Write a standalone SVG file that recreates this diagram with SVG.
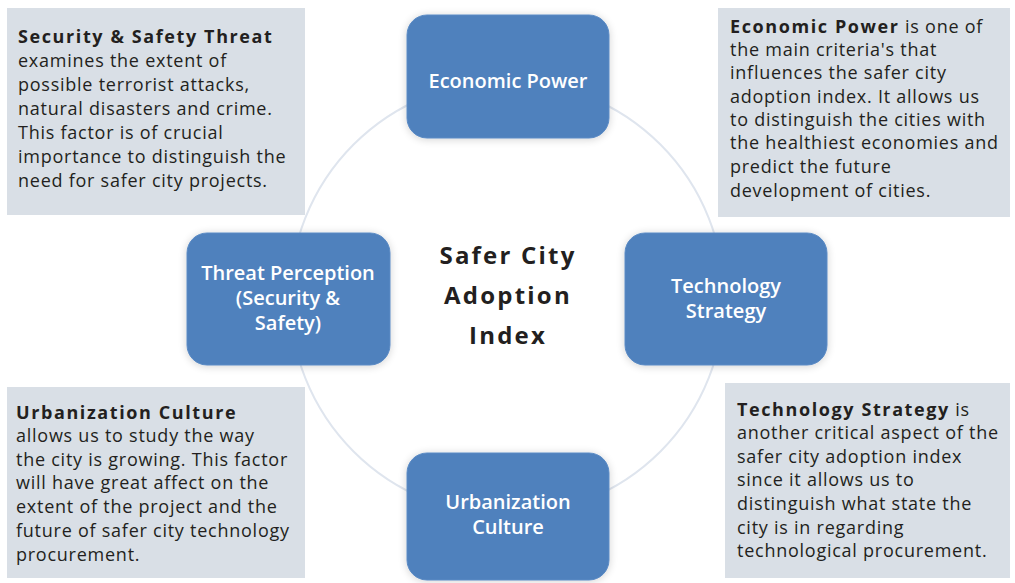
<svg xmlns="http://www.w3.org/2000/svg" width="1015" height="583" viewBox="0 0 1015 583">
<defs>
<filter id="sh" x="-20%" y="-20%" width="140%" height="140%">
<feGaussianBlur in="SourceAlpha" stdDeviation="4"/>
<feOffset dx="0" dy="1" result="b"/>
<feComponentTransfer><feFuncA type="linear" slope="0.18"/></feComponentTransfer>
<feMerge><feMergeNode/><feMergeNode in="SourceGraphic"/></feMerge>
</filter>
<style>
.panel{fill:#d9dfe6}
.node{fill:#4f81bd;stroke:#5a8ac4;stroke-width:1;filter:url(#sh)}
.nl{font-family:"Open Sans",sans-serif;font-weight:600;font-size:20px;fill:#ffffff;text-anchor:middle}
.pt{font-family:"Open Sans",sans-serif;font-size:18px;fill:#231f20;letter-spacing:0.75px}
.b{font-weight:700;letter-spacing:1.6px}
.ct{font-family:"Open Sans",sans-serif;font-weight:700;font-size:24px;fill:#231f20;text-anchor:middle;letter-spacing:2.2px}
.ring{fill:none;stroke:#dfe5ee;stroke-width:2}
</style>
</defs>
<rect width="1015" height="583" fill="#ffffff"/>
<g id="connectors">
<circle class="ring" cx="507" cy="298" r="217"/>
</g>
<g id="panel-security">
<rect class="panel" x="7" y="8" width="298" height="207"/>
<text class="pt" x="18" y="43"><tspan class="b">Security &amp; Safety Threat</tspan><tspan x="18" y="67">examines the extent of</tspan><tspan x="18" y="91">possible terrorist attacks,</tspan><tspan x="18" y="115">natural disasters and crime.</tspan><tspan x="18" y="139">This factor is of crucial</tspan><tspan x="18" y="163">importance to distinguish the</tspan><tspan x="18" y="187">need for safer city projects.</tspan></text>
</g>
<g id="panel-economic">
<rect class="panel" x="718" y="8" width="292" height="209"/>
<text class="pt" x="730" y="33"><tspan class="b">Economic Power</tspan> is one of<tspan x="730" y="56">the main criteria's that</tspan><tspan x="730" y="79">influences the safer city</tspan><tspan x="730" y="103">adoption index. It allows us</tspan><tspan x="730" y="126">to distinguish the cities with</tspan><tspan x="730" y="149">the healthiest economies and</tspan><tspan x="730" y="173">predict the future</tspan><tspan x="730" y="197">development of cities.</tspan></text>
</g>
<g id="panel-urban">
<rect class="panel" x="7" y="387" width="298" height="191"/>
<text class="pt" x="16" y="419"><tspan class="b">Urbanization Culture</tspan><tspan x="16" y="442">allows us to study the way</tspan><tspan x="16" y="466">the city is growing. This factor</tspan><tspan x="16" y="489">will have great affect on the</tspan><tspan x="16" y="513">extent of the project and the</tspan><tspan x="16" y="537">future of safer city technology</tspan><tspan x="16" y="561">procurement.</tspan></text>
</g>
<g id="panel-technology">
<rect class="panel" x="725" y="383" width="285" height="195"/>
<text class="pt" x="737" y="416"><tspan class="b">Technology Strategy</tspan> is<tspan x="737" y="439">another critical aspect of the</tspan><tspan x="737" y="463">safer city adoption index</tspan><tspan x="737" y="486">since it allows us to</tspan><tspan x="737" y="510">distinguish what state the</tspan><tspan x="737" y="534">city is in regarding</tspan><tspan x="737" y="557">technological procurement.</tspan></text>
</g>
<g id="node-economic">
<rect class="node" x="407" y="15" width="202" height="123" rx="20"/>
<text class="nl" x="508" y="88">Economic Power</text>
</g>
<g id="node-threat">
<rect class="node" x="187" y="233" width="203" height="132" rx="20"/>
<text class="nl" x="288" y="280">Threat Perception<tspan x="288" y="305">(Security &amp;</tspan><tspan x="288" y="330">Safety)</tspan></text>
</g>
<g id="node-technology">
<rect class="node" x="625" y="233" width="202" height="132" rx="20"/>
<text class="nl" x="726" y="293">Technology<tspan x="726" y="318">Strategy</tspan></text>
</g>
<g id="node-urban">
<rect class="node" x="407" y="453" width="202" height="127" rx="20"/>
<text class="nl" x="508" y="509">Urbanization<tspan x="508" y="534">Culture</tspan></text>
</g>
<g id="center">
<text class="ct" x="508" y="264">Safer City<tspan x="508" y="304">Adoption</tspan><tspan x="508" y="344">Index</tspan></text>
</g>
</svg>
